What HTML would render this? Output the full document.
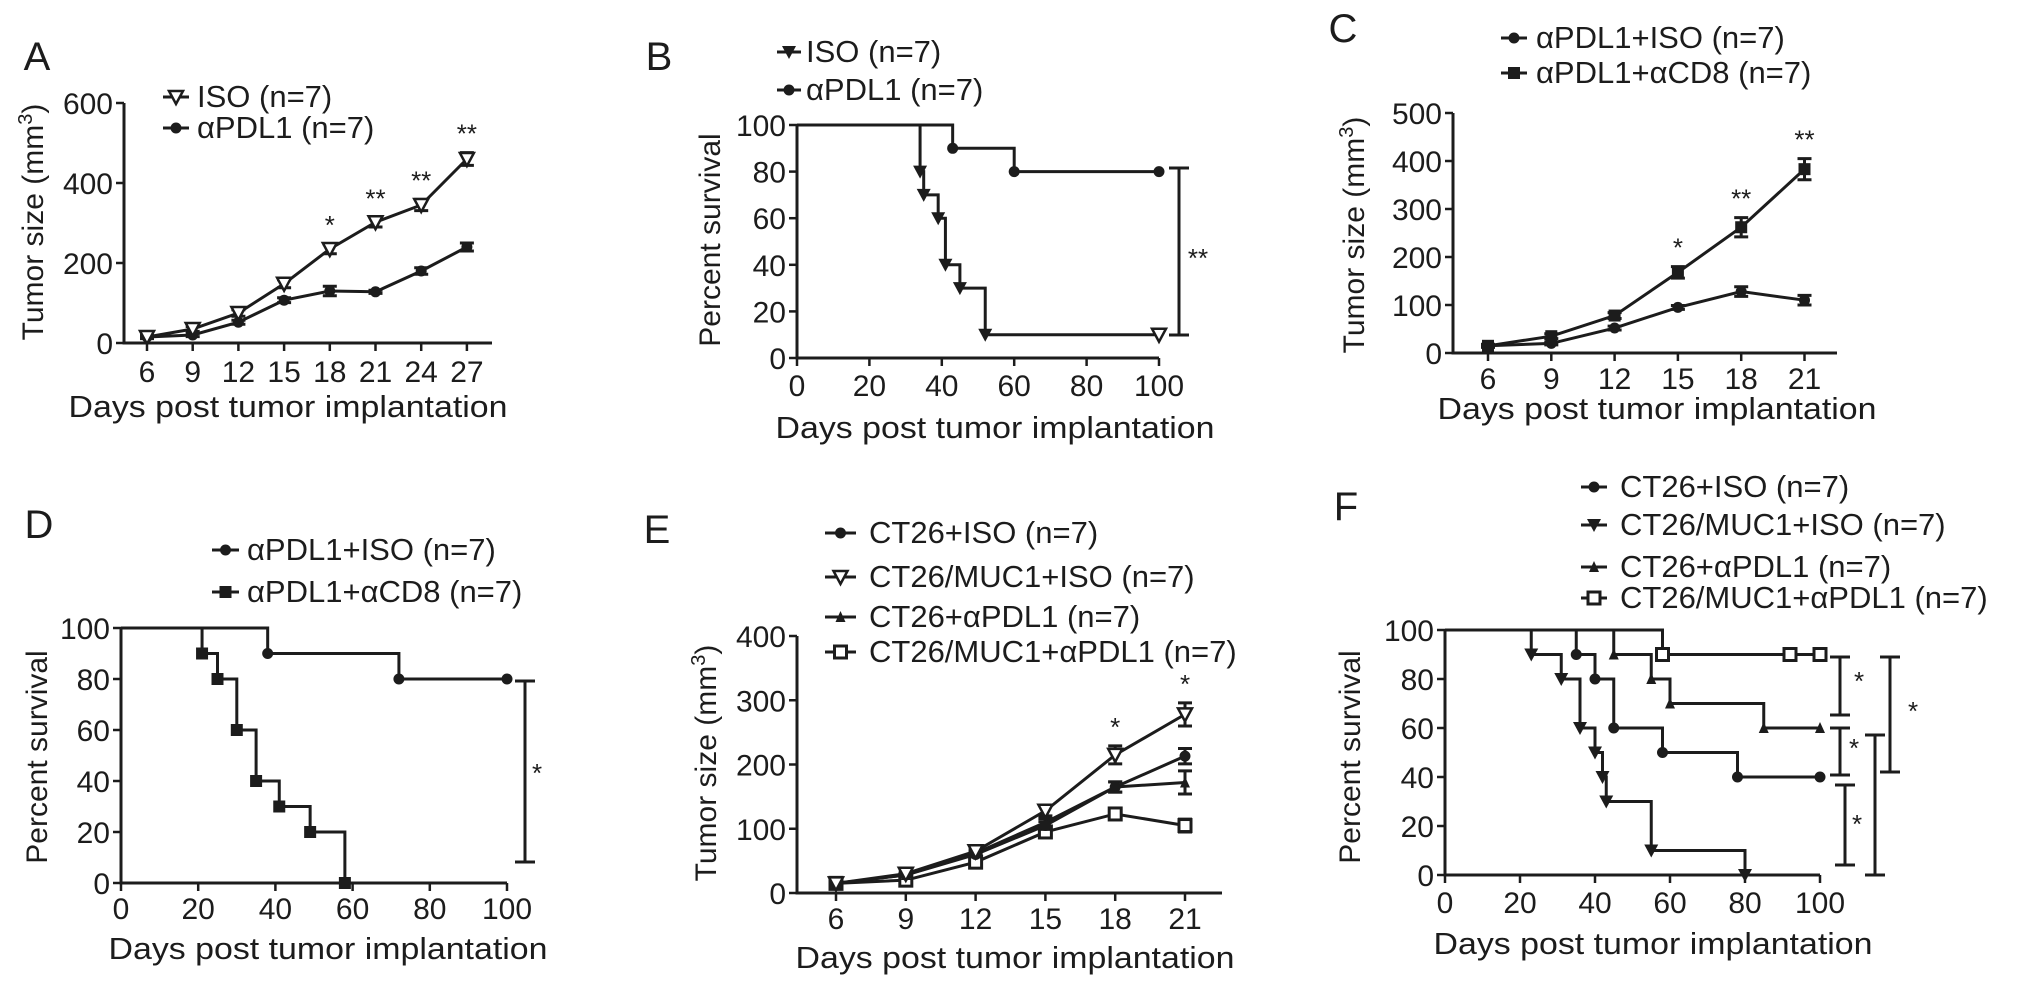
<!DOCTYPE html>
<html><head><meta charset="utf-8"><style>
html,body{margin:0;padding:0;background:#fff;}
svg{display:block;font-family:"Liberation Sans",Arial,sans-serif;}
text{fill:#1c1c1c;}
</style></head><body>
<svg id="fig" width="2032" height="987" viewBox="0 0 2032 987" xmlns="http://www.w3.org/2000/svg"></svg>
<script>
// ---- Panel A data ----
const aDays = [6, 9, 12, 15, 18, 21, 24, 27];
const aISO = [15, 35, 75, 148, 235, 302, 345, 460];
const aISOErr = [4, 6, 8, 10, 12, 12, 14, 16];
const aPDL1 = [15, 20, 52, 107, 130, 128, 180, 240];
const aPDL1Err = [3, 4, 5, 6, 12, 4, 8, 10];
const aStars = ["", "", "", "", "*", "**", "**", "**"];
const aYTicks = [0, 200, 400, 600];
// ---- Panel B data ----
const bISOt = [34, 35, 39, 41, 45, 52];
const bISOs = [80, 70, 60, 40, 30, 10];
const bPDLt = [43, 60];
const bPDLs = [90, 80];
const bEnd = 100;
const bTicks = [0, 20, 40, 60, 80, 100];
// ---- Panel C data ----
const cDays = [6, 9, 12, 15, 18, 21];
const cISO = [15, 20, 52, 95, 128, 110];
const cISOErr = [3, 3, 4, 4, 10, 10];
const cCD8 = [15, 35, 78, 168, 262, 383];
const cCD8Err = [3, 5, 6, 12, 20, 22];
const cStars = ["", "", "", "*", "**", "**"];
const cYTicks = [0, 100, 200, 300, 400, 500];
// ---- Panel D data ----
const dISOt = [38, 72];
const dISOs = [90, 80];
const dCD8t = [21, 25, 30, 35, 41, 49, 58];
const dCD8s = [90, 80, 60, 40, 30, 20, 0];
// ---- Panel E data ----
const eDays = [6, 9, 12, 15, 18, 21];
const eCT26ISO = [15, 28, 60, 105, 165, 213];
const eCT26ISOErr = [3, 3, 4, 6, 8, 12];
const eMUCISO = [15, 30, 65, 128, 215, 278];
const eMUCISOErr = [3, 4, 5, 8, 14, 18];
const eCT26PDL = [15, 28, 62, 110, 165, 172];
const eCT26PDLErr = [3, 3, 4, 6, 8, 18];
const eMUCPDL = [15, 20, 48, 95, 123, 105];
const eMUCPDLErr = [3, 3, 4, 5, 8, 10];
const eStars = ["", "", "", "", "*", "*"];
const eYTicks = [0, 100, 200, 300, 400];
// ---- Panel F data ----
const fCT26ISOt = [35, 40, 45, 58, 78];
const fCT26ISOs = [90, 80, 60, 50, 40];
const fMUCISOt = [23, 31, 36, 40, 42, 43, 55, 80];
const fMUCISOs = [90, 80, 60, 50, 40, 30, 10, 0];
const fCT26PDLt = [45, 55, 60, 85];
const fCT26PDLs = [90, 80, 70, 60];
const fMUCPDLt = [58];
const fMUCPDLs = [90];
const fMUCPDLcensor = [92];

const svg = document.getElementById('fig');
const NS = 'http://www.w3.org/2000/svg';
const INK = '#1c1c1c';
function el(tag, attrs, parent) {
  const e = document.createElementNS(NS, tag);
  for (const k in attrs) e.setAttribute(k, attrs[k]);
  (parent || svg).appendChild(e);
  return e;
}
function txt(x, y, s, size, anchor, parent) {
  const t = el('text', {x: x, y: y, 'font-size': size, 'text-anchor': anchor || 'start'}, parent);
  t.textContent = s;
  return t;
}
function marker(g, type, x, y) {
  let m;
  if (type === 'circle') m = el('circle', {cx: x, cy: y, r: 5.5, fill: INK}, g);
  else if (type === 'square') m = el('rect', {x: x - 6, y: y - 6, width: 12, height: 12, fill: INK}, g);
  else if (type === 'osquare') m = el('rect', {x: x - 6, y: y - 6, width: 12, height: 12, fill: '#fff', stroke: INK, 'stroke-width': 3}, g);
  else if (type === 'tdown') m = el('path', {d: `M${x-7},${y-6} L${x+7},${y-6} L${x},${y+7} Z`, fill: INK}, g);
  else if (type === 'otdown') m = el('path', {d: `M${x-7},${y-6} L${x+7},${y-6} L${x},${y+7} Z`, fill: '#fff', stroke: INK, 'stroke-width': 2.5}, g);
  else if (type === 'tup') m = el('path', {d: `M${x-5},${y+5} L${x+5},${y+5} L${x},${y-6} Z`, fill: INK}, g);
  
  
  return m;
}
function panelLetter(x, y, s) {
  const t = txt(x, y, s, 40, 'middle');
  
  
}
function legend(g, x1, x2, tx, rows) {
  rows.forEach(r => {
    const lg = el('g', {}, g);
    
    
    el('line', {x1: x1, y1: r.y, x2: x2, y2: r.y, stroke: INK, 'stroke-width': 3}, lg);
    marker(lg, r.m, (x1 + x2) / 2, r.y);
    const t = txt(tx, r.y + 10, '', 31, 'start', lg);
    t.innerHTML = r.label;
  });
}
function yLabel(g, cx, cy, html) {
  const t = el('text', {x: 0, y: 0, 'font-size': 30, 'text-anchor': 'middle', transform: `translate(${cx + 10},${cy}) rotate(-90)`}, g);
  t.innerHTML = html;
  
  
}
function axes(g, o) {
  const ag = el('g', {}, g);
  
  
  el('line', {x1: o.ax, y1: o.y0, x2: o.ax, y2: o.yTop, stroke: INK, 'stroke-width': 3}, ag);
  el('line', {x1: o.ax - 1.5, y1: o.y0, x2: o.xEnd, y2: o.y0, stroke: INK, 'stroke-width': 3}, ag);
  o.yTicks.forEach(v => {
    const y = o.yVal(v);
    el('line', {x1: o.ax - 8, y1: y, x2: o.ax, y2: y, stroke: INK, 'stroke-width': 2.5}, ag);
    const t = txt(o.ax - 11, y + 11, String(v), 30, 'end', ag);
    
    
  });
  o.xTicks.forEach(tk => {
    el('line', {x1: tk.x, y1: o.y0, x2: tk.x, y2: o.y0 + 8, stroke: INK, 'stroke-width': 2.5}, ag);
    const t = txt(tk.x, o.tickLabelY, String(tk.label), 30, 'middle', ag);
    
    
  });
  const tt = txt(o.titleX, o.titleY, o.title, 31, 'middle', ag);
  tt.setAttribute('textLength', '439');
  tt.setAttribute('lengthAdjust', 'spacingAndGlyphs');
  
  
}
function lineSeries(g, days, vals, errs, xF, yF, m, name) {
  const sg = el('g', {}, g);
  
  
  const pts = days.map((d, i) => `${xF(d)},${yF(vals[i])}`).join(' ');
  el('polyline', {points: pts, fill: 'none', stroke: INK, 'stroke-width': 3}, sg);
  days.forEach((d, i) => {
    const x = xF(d), yt = yF(vals[i] + errs[i]), yb = yF(vals[i] - errs[i]);
    const eb = el('path', {d: `M${x},${yt} L${x},${yb} M${x-7},${yt} L${x+7},${yt} M${x-7},${yb} L${x+7},${yb}`, stroke: INK, 'stroke-width': 3, fill: 'none'}, sg);
    
    
    marker(sg, m, x, yF(vals[i]));
  });
}
function stars(g, days, labels, tops, xF, yF) {
  days.forEach((d, i) => {
    if (!labels[i]) return;
    const t = txt(xF(d), yF(tops[i]) - 10, labels[i], 26, 'middle', g);
    
    
  });
}
function survSeries(g, ts, ss, end, xF, yF, m, name, censor) {
  const sg = el('g', {}, g);
  
  
  let d = `M${xF(0)},${yF(100)}`;
  let last = 100;
  ts.forEach((t, i) => { d += ` L${xF(t)},${yF(last)} L${xF(t)},${yF(ss[i])}`; last = ss[i]; });
  if (last > 0) d += ` L${xF(end)},${yF(last)}`;
  el('path', {d: d, fill: 'none', stroke: INK, 'stroke-width': 3}, sg);
  ts.forEach((t, i) => marker(sg, m.ev, xF(t), yF(ss[i])));
  (censor || []).forEach(c => marker(sg, m.end, xF(c), yF(last)));
  if (last > 0) marker(sg, m.end, xF(end), yF(last));
}
function bracket(g, x, yt, yb) {
  const b = el('path', {d: `M${x},${yt} L${x},${yb} M${x-10},${yt} L${x+10},${yt} M${x-10},${yb} L${x+10},${yb}`, stroke: INK, 'stroke-width': 3, fill: 'none'}, g);
  
  
}
function starAt(g, x, y, s) {
  const t = txt(x, y + 10, s, 26, 'middle', g);
  
  
}
const SUP = 'Tumor size (mm<tspan baseline-shift="super" font-size="20">3</tspan>)';
const XT = 'Days post tumor implantation';

// ===== Panel A =====
(function(){
  const g = el('g', {});  
  const ax = 124, y0 = 343, yT = 103, ymax = 600;
  const yF = v => y0 - (v / ymax) * (y0 - yT);
  const xF = d => 147 + (d - 6) / 3 * 45.7;
  axes(g, {ax, y0, yTop: yT, xEnd: 492, yTicks: aYTicks, yVal: yF, xTicks: aDays.map(d => ({x: xF(d), label: d})), tickLabelY: 382, title: XT, titleX: 288, titleY: 417});
  yLabel(g, 33, 222, SUP);
  lineSeries(g, aDays, aPDL1, aPDL1Err, xF, yF, 'circle', 'series-apdl1');
  lineSeries(g, aDays, aISO, aISOErr, xF, yF, 'otdown', 'series-iso');
  stars(g, aDays, aStars, aISO.map((v, i) => v + aISOErr[i]), xF, yF);
  legend(g, 163, 189, 197, [{y: 97, m: 'otdown', label: 'ISO (n=7)'}, {y: 128, m: 'circle', label: 'αPDL1 (n=7)'}]);
  panelLetter(37, 70, 'A');
})();
// ===== Panel B =====
(function(){
  const g = el('g', {});  
  const ax = 797, y0 = 358, yT = 125;
  const yF = v => y0 - v / 100 * (y0 - yT);
  const xF = d => ax + d / 100 * (1159 - ax);
  axes(g, {ax, y0, yTop: yT, xEnd: 1159, yTicks: bTicks, yVal: yF, xTicks: bTicks.map(d => ({x: xF(d), label: d})), tickLabelY: 396, title: XT, titleX: 995, titleY: 438});
  yLabel(g, 710, 240, 'Percent survival');
  survSeries(g, bPDLt, bPDLs, bEnd, xF, yF, {ev: 'circle', end: 'circle'}, 'series-apdl1');
  survSeries(g, bISOt, bISOs, bEnd, xF, yF, {ev: 'tdown', end: 'otdown'}, 'series-iso');
  bracket(g, 1179, 168, 335);
  starAt(g, 1198, 257, '**');
  legend(g, 777, 801, 806, [{y: 52, m: 'tdown', label: 'ISO (n=7)'}, {y: 90, m: 'circle', label: 'αPDL1 (n=7)'}]);
  panelLetter(659, 70, 'B');
})();
// ===== Panel C =====
(function(){
  const g = el('g', {});  
  const ax = 1453, y0 = 353, yT = 113, ymax = 500;
  const yF = v => y0 - (v / ymax) * (y0 - yT);
  const xF = d => 1488 + (d - 6) / 3 * 63.3;
  axes(g, {ax, y0, yTop: yT, xEnd: 1837, yTicks: cYTicks, yVal: yF, xTicks: cDays.map(d => ({x: xF(d), label: d})), tickLabelY: 389, title: XT, titleX: 1657, titleY: 419});
  yLabel(g, 1354, 235, SUP);
  lineSeries(g, cDays, cISO, cISOErr, xF, yF, 'circle', 'series-apdl1-iso');
  lineSeries(g, cDays, cCD8, cCD8Err, xF, yF, 'square', 'series-apdl1-acd8');
  stars(g, cDays, cStars, cCD8.map((v, i) => v + cCD8Err[i]), xF, yF);
  legend(g, 1501, 1527, 1536, [{y: 38, m: 'circle', label: 'αPDL1+ISO (n=7)'}, {y: 73, m: 'square', label: 'αPDL1+αCD8 (n=7)'}]);
  panelLetter(1343, 42, 'C');
})();
// ===== Panel D =====
(function(){
  const g = el('g', {});  
  const ax = 121, y0 = 883, yT = 628;
  const yF = v => y0 - v / 100 * (y0 - yT);
  const xF = d => ax + d / 100 * (507 - ax);
  axes(g, {ax, y0, yTop: yT, xEnd: 507, yTicks: bTicks, yVal: yF, xTicks: bTicks.map(d => ({x: xF(d), label: d})), tickLabelY: 919, title: XT, titleX: 328, titleY: 959});
  yLabel(g, 37, 757, 'Percent survival');
  survSeries(g, dISOt, dISOs, 100, xF, yF, {ev: 'circle', end: 'circle'}, 'series-apdl1-iso');
  survSeries(g, dCD8t, dCD8s, 100, xF, yF, {ev: 'square', end: 'square'}, 'series-apdl1-acd8');
  bracket(g, 525, 681, 862);
  starAt(g, 537, 772, '*');
  legend(g, 212, 239, 247, [{y: 550, m: 'circle', label: 'αPDL1+ISO (n=7)'}, {y: 592, m: 'square', label: 'αPDL1+αCD8 (n=7)'}]);
  panelLetter(39, 538, 'D');
})();
// ===== Panel E =====
(function(){
  const g = el('g', {});  
  const ax = 797, y0 = 893, yT = 636, ymax = 400;
  const yF = v => y0 - (v / ymax) * (y0 - yT);
  const xF = d => 836 + (d - 6) / 3 * 69.8;
  axes(g, {ax, y0, yTop: yT, xEnd: 1222, yTicks: eYTicks, yVal: yF, xTicks: eDays.map(d => ({x: xF(d), label: d})), tickLabelY: 929, title: XT, titleX: 1015, titleY: 968});
  yLabel(g, 706, 763, SUP);
  lineSeries(g, eDays, eMUCPDL, eMUCPDLErr, xF, yF, 'osquare', 'series-ct26-muc1-apdl1');
  lineSeries(g, eDays, eCT26PDL, eCT26PDLErr, xF, yF, 'tup', 'series-ct26-apdl1');
  lineSeries(g, eDays, eCT26ISO, eCT26ISOErr, xF, yF, 'circle', 'series-ct26-iso');
  lineSeries(g, eDays, eMUCISO, eMUCISOErr, xF, yF, 'otdown', 'series-ct26-muc1-iso');
  stars(g, eDays, eStars, eMUCISO.map((v, i) => v + eMUCISOErr[i]), xF, yF);
  legend(g, 825, 856, 869, [
    {y: 533, m: 'circle', label: 'CT26+ISO (n=7)'},
    {y: 577, m: 'otdown', label: 'CT26/MUC1+ISO (n=7)'},
    {y: 617, m: 'tup', label: 'CT26+αPDL1 (n=7)'},
    {y: 652, m: 'osquare', label: 'CT26/MUC1+αPDL1 (n=7)'}]);
  panelLetter(657, 543, 'E');
})();
// ===== Panel F =====
(function(){
  const g = el('g', {});  
  const ax = 1445, y0 = 875, yT = 630;
  const yF = v => y0 - v / 100 * (y0 - yT);
  const xF = d => ax + d / 100 * (1820 - ax);
  axes(g, {ax, y0, yTop: yT, xEnd: 1820, yTicks: bTicks, yVal: yF, xTicks: bTicks.map(d => ({x: xF(d), label: d})), tickLabelY: 913, title: XT, titleX: 1653, titleY: 954});
  yLabel(g, 1350, 757, 'Percent survival');
  survSeries(g, fMUCPDLt, fMUCPDLs, 100, xF, yF, {ev: 'osquare', end: 'osquare'}, 'series-ct26-muc1-apdl1', fMUCPDLcensor);
  survSeries(g, fCT26PDLt, fCT26PDLs, 100, xF, yF, {ev: 'tup', end: 'tup'}, 'series-ct26-apdl1');
  survSeries(g, fCT26ISOt, fCT26ISOs, 100, xF, yF, {ev: 'circle', end: 'circle'}, 'series-ct26-iso');
  survSeries(g, fMUCISOt, fMUCISOs, 100, xF, yF, {ev: 'tdown', end: 'tdown'}, 'series-ct26-muc1-iso');
  bracket(g, 1840, 657, 715); starAt(g, 1859, 680, '*');
  bracket(g, 1840, 728, 775); starAt(g, 1854, 747, '*');
  bracket(g, 1845, 785, 865); starAt(g, 1857, 823, '*');
  bracket(g, 1875, 735, 875);
  bracket(g, 1890, 657, 772); starAt(g, 1913, 710, '*');
  legend(g, 1581, 1607, 1620, [
    {y: 487, m: 'circle', label: 'CT26+ISO (n=7)'},
    {y: 525, m: 'tdown', label: 'CT26/MUC1+ISO (n=7)'},
    {y: 567, m: 'tup', label: 'CT26+αPDL1 (n=7)'},
    {y: 598, m: 'osquare', label: 'CT26/MUC1+αPDL1 (n=7)'}]);
  panelLetter(1346, 520, 'F');
})();
</script>
</body></html>
